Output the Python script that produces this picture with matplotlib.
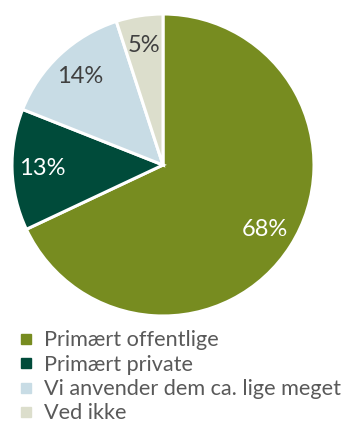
import matplotlib
matplotlib.use("Agg")
import matplotlib.pyplot as plt
from matplotlib.lines import Line2D

# svarfordeling
kategorier = ["Primært offentlige", "Primært private",
              "Vi anvender dem ca. lige meget", "Ved ikke"]
andele = [68, 13, 14, 5]
farver = ["#778c20", "#004b3a", "#c8dce5", "#dcdecc"]
tekstfarver = ["white", "white", "#404040", "#404040"]

plt.rcParams["font.family"] = ["Lato", "DejaVu Sans"]

fig = plt.figure(figsize=(3.46, 4.25), dpi=100)
ax = fig.add_axes([0, 0, 1, 1])

wedges, texts, autotexts = ax.pie(
    andele, colors=farver, startangle=90, counterclock=False,
    center=(163, 260), radius=151, autopct="%d%%", pctdistance=0.8,
    wedgeprops=dict(edgecolor="white", linewidth=2.2),
    textprops=dict(fontsize=17))
for t, c in zip(autotexts, tekstfarver):
    t.set_color(c)

# akser i pixelenheder
ax.set_xlim(0, 346)
ax.set_ylim(0, 425)
ax.set_aspect("equal")
ax.axis("off")

handles = [Line2D([], [], marker="s", linestyle="", markersize=7,
                  markerfacecolor=f, markeredgecolor=f) for f in farver]
fig.legend(handles, kategorier, loc="upper left",
           bbox_to_anchor=(0.026, 0.248), frameon=False,
           fontsize=15.6, labelcolor="#595959", handlelength=0.6,
           handletextpad=0.5, labelspacing=0.2, borderpad=0)

fig.savefig("out.png", dpi=100)
